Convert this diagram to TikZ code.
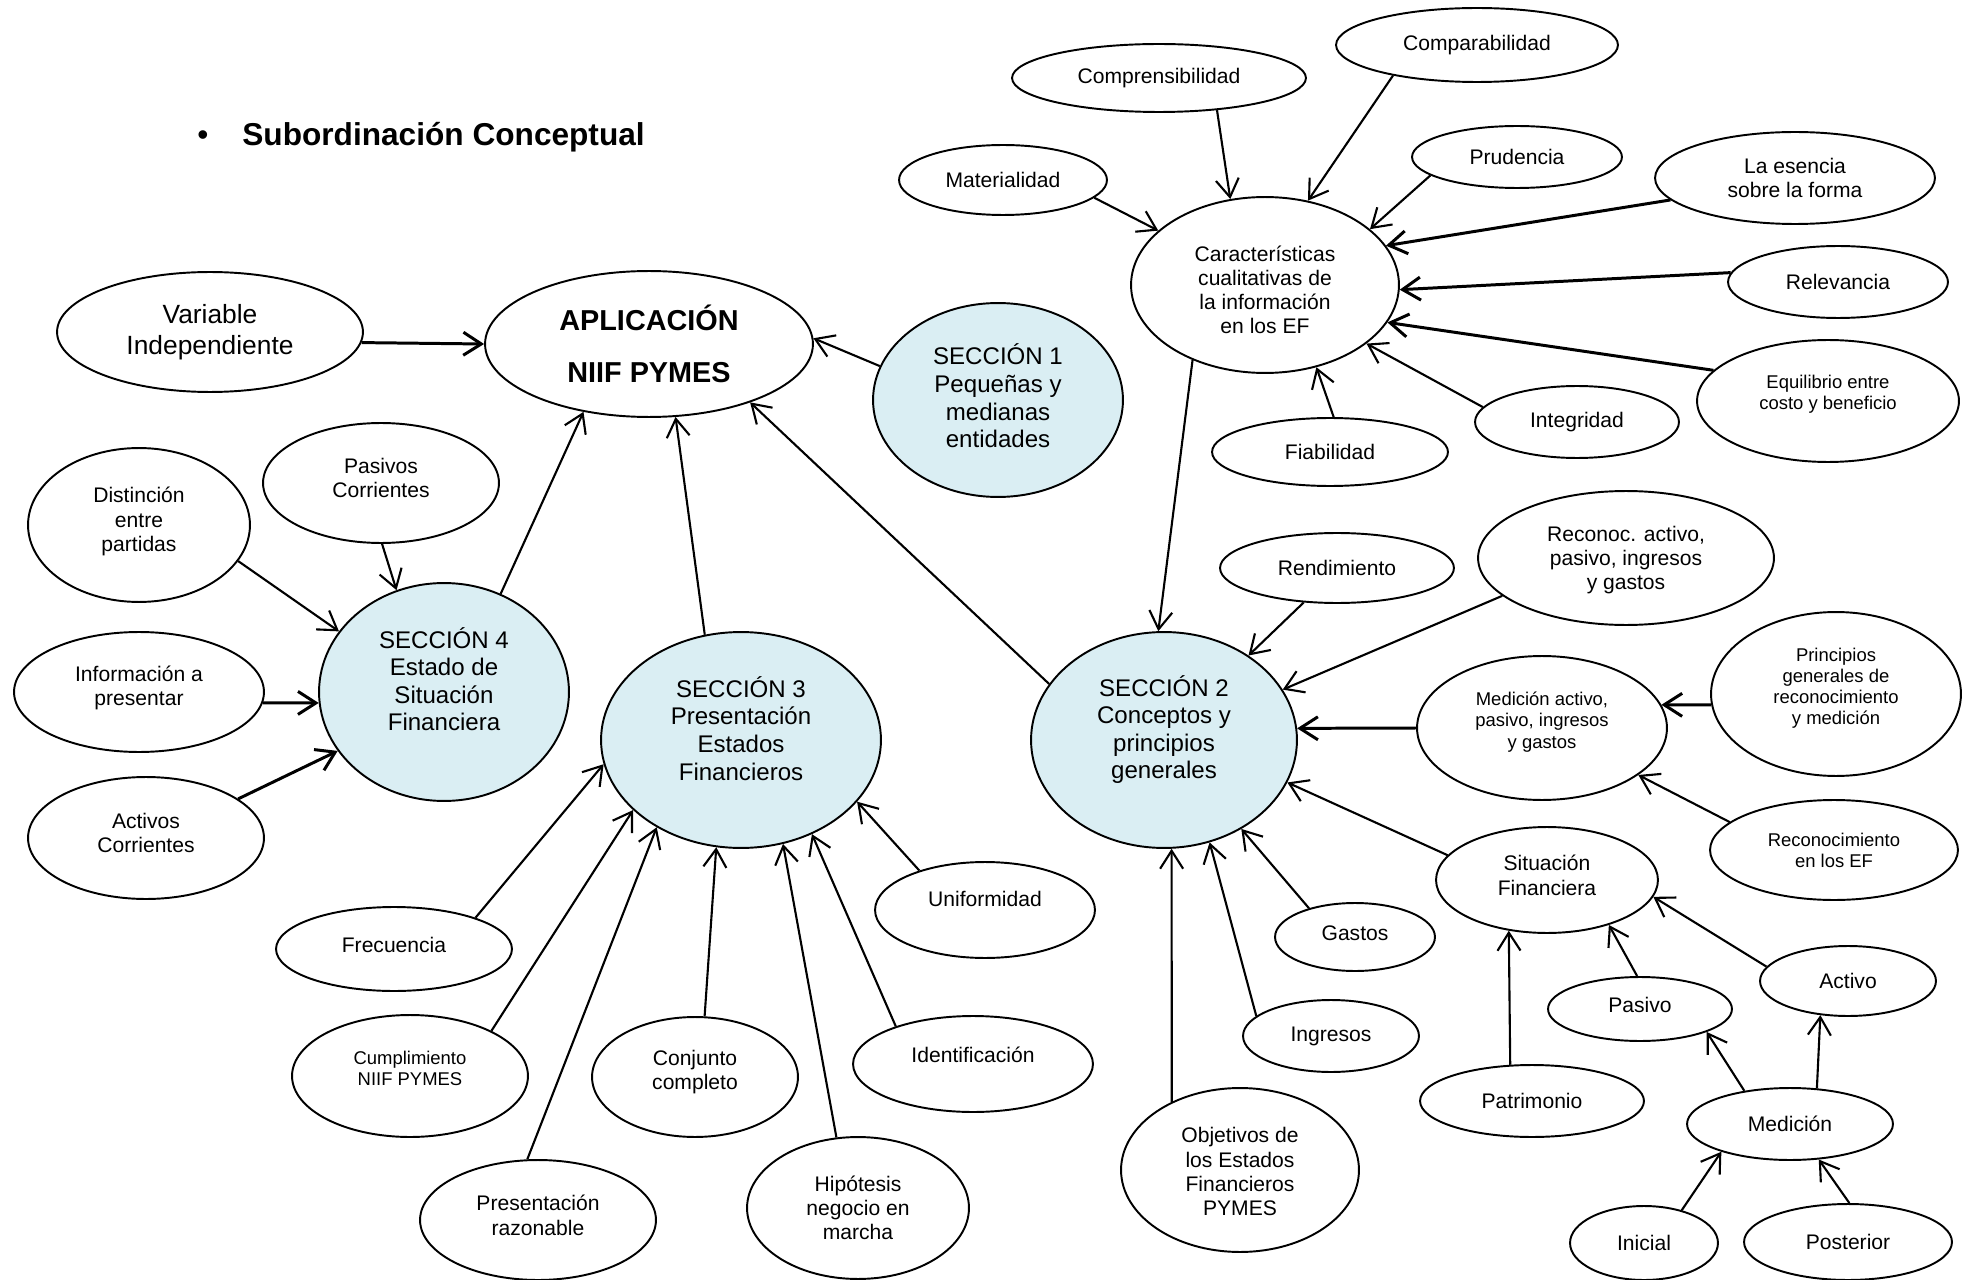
\documentclass[tikz,border=0pt]{standalone}
\usepackage{fontspec}
\setmainfont{Liberation Sans}
\usepackage{tikz}
\usetikzlibrary{shapes.geometric,arrows.meta}
\definecolor{secblue}{HTML}{DAEEF3}
\newcommand\liftup[2]{\raisebox{#1}[\height][\depth]{\begin{tabular}{@{}c@{}}#2\end{tabular}}}

\begin{document}
\begin{tikzpicture}[x=0.02cm,y=-0.02cm,>={Straight Barb[length=3.6mm,width=4.6mm]},
  every node/.style={font=\fontsize{12}{13.8}\selectfont},
  oval/.style={draw,ellipse,line width=1.1pt,align=center,inner sep=0pt},
  sz/.style 2 args={minimum width=#1*0.04cm,minimum height=#2*0.04cm},
  smtxt/.style={font=\fontsize{10.5}{12}\selectfont},
  sec/.style={oval,fill=secblue,font=\fontsize{13.7}{15.7}\selectfont},
  root/.style={oval,font=\fontsize{16.4}{29.5}\selectfont\bfseries},
  arr/.style={->,line width=1.2pt},
  arrb/.style={->,line width=1.7pt}]
 \useasboundingbox (0,0) rectangle (1978,1280);
 \node[font=\fontsize{18}{21}\selectfont] (bullet) at (203,138) {\textbullet};
 \node[font=\fontsize{18}{21}\selectfont\bfseries,anchor=west,inner sep=0pt] (title) at (242,137) {Subordinación Conceptual};
 \node[root,sz={164}{73}] (aplic) at (649,344) {APLICACIÓN\\NIIF PYMES};
 \node[oval,sz={153}{60},font=\fontsize{15}{17.6}\selectfont] (varind) at (210,332) {Variable\\Independiente};
 \node[sec,sz={125}{97}] (sec1) at (998,400) {\liftup{0pt}{SECCIÓN 1\\Pequeñas y\\medianas\\entidades}};
 \node[sec,sz={133}{108}] (sec2) at (1164,740) {\liftup{5pt}{SECCIÓN 2\\Conceptos y\\principios\\generales}};
 \node[sec,sz={140}{108}] (sec3) at (741,740) {\liftup{4.3pt}{SECCIÓN 3\\Presentación\\Estados\\Financieros}};
 \node[sec,sz={125}{109}] (sec4) at (444,692) {\liftup{5pt}{SECCIÓN 4\\Estado de\\Situación\\Financiera}};
 \node[oval,sz={134}{88}] (car) at (1265,285) {\liftup{-4.3pt}{Características\\cualitativas de\\la información\\en los EF}};
 \node[oval,sz={104}{35}] (mat) at (1003,180) {Materialidad};
 \node[oval,sz={147}{34}] (compr) at (1159,78) {Comprensibilidad};
 \node[oval,sz={141}{37}] (compa) at (1477,45) {Comparabilidad};
 \node[oval,sz={105}{31}] (prud) at (1517,157) {Prudencia};
 \node[oval,sz={140}{46}] (esen) at (1795,178) {La esencia\\sobre la forma};
 \node[oval,sz={110}{36}] (relev) at (1838,282) {Relevancia};
 \node[oval,smtxt,sz={131}{61}] (equil) at (1828,401) {\liftup{3.5pt}{Equilibrio entre\\costo y beneficio}};
 \node[oval,sz={102}{36}] (integ) at (1577,422) {Integridad};
 \node[oval,sz={118}{34}] (fiab) at (1330,452) {Fiabilidad};
 \node[oval,sz={117}{35}] (rend) at (1337,568) {Rendimiento};
 \node[oval,sz={148}{67}] (recon) at (1626,558) {\liftup{-1.4pt}{Reconoc. activo,\\pasivo, ingresos\\y gastos}};
 \node[oval,smtxt,sz={125}{72}] (medact) at (1542,728) {\liftup{3pt}{Medición activo,\\pasivo, ingresos\\y gastos}};
 \node[oval,smtxt,sz={125}{82}] (princ) at (1836,694) {\liftup{3pt}{Principios\\generales de\\reconocimiento\\y medición}};
 \node[oval,smtxt,sz={124}{50}] (recef) at (1834,850) {Reconocimiento\\en los EF};
 \node[oval,sz={111}{53}] (sitfin) at (1547,880) {\liftup{1pt}{Situación\\Financiera}};
 \node[oval,sz={80}{34}] (gastos) at (1355,937) {\liftup{1pt}{Gastos}};
 \node[oval,sz={88}{36}] (ingr) at (1331,1036) {Ingresos};
 \node[oval,sz={119}{82}] (objet) at (1240,1170) {\liftup{-2.5pt}{Objetivos de\\los Estados\\Financieros\\PYMES}};
 \node[oval,sz={112}{36}] (patr) at (1532,1101) {Patrimonio};
 \node[oval,sz={92}{32}] (pasivo) at (1640,1009) {\liftup{1pt}{Pasivo}};
 \node[oval,sz={88}{35}] (activo) at (1848,981) {Activo};
 \node[oval,sz={103}{36}] (medic) at (1790,1124) {Medición};
 \node[oval,sz={74}{37}] (inic) at (1644,1243) {Inicial};
 \node[oval,sz={104}{38}] (poster) at (1848,1242) {Posterior};
 \node[oval,sz={111}{77}] (dist) at (139,525) {\liftup{1.5pt}{Distinción\\entre\\partidas}};
 \node[oval,sz={118}{60}] (pasc) at (381,483) {\liftup{1.5pt}{Pasivos\\Corrientes}};
 \node[oval,sz={125}{60}] (info) at (139,692) {\liftup{2pt}{Información a\\presentar}};
 \node[oval,sz={118}{61}] (actc) at (146,838) {\liftup{1.5pt}{Activos\\Corrientes}};
 \node[oval,sz={118}{42}] (frec) at (394,949) {\liftup{1pt}{Frecuencia}};
 \node[oval,smtxt,sz={118}{61}] (cumpl) at (410,1076) {\liftup{3pt}{Cumplimiento\\NIIF PYMES}};
 \node[oval,sz={118}{60}] (presr) at (538,1220) {\liftup{1pt}{Presentación\\razonable}};
 \node[oval,sz={103}{60}] (conj) at (695,1077) {\liftup{2.5pt}{Conjunto\\completo}};
 \node[oval,sz={111}{71}] (hipo) at (858,1208) {Hipótesis\\negocio en\\marcha};
 \node[oval,sz={120}{48}] (ident) at (973,1064) {\liftup{3.5pt}{Identificación}};
 \node[oval,sz={110}{48}] (unif) at (985,910) {\liftup{5pt}{Uniformidad}};
 \draw[arrb] (varind.-4) -- (aplic.180);
 \draw[arr] (sec1.164) -- (aplic.2);
 \draw[arr] (sec4.60) -- (aplic.226);
 \draw[arr] (sec3.109) -- (aplic.-70);
 \draw[arr] (sec2.154) -- (aplic.-30);
 \draw[arr] (car.-134) -- (sec2.93);
 \draw[arr] (mat.-11) -- (car.153);
 \draw[arr] (compr.-29) -- (car.112);
 \draw[arr] (compa.-160) -- (car.63);
 \draw[arr] (prud.-168) -- (car.28);
 \draw[arrb] (esen.190) -- (car.18);
 \draw[arrb] (relev.175) -- (car.-2);
 \draw[arrb] (equil.165) -- (car.-17);
 \draw[arr] (integ.171) -- (car.-30);
 \draw[arr] (fiab.84) -- (car.-58);
 \draw[arr] (rend.226) -- (sec2.45);
 \draw[arr] (recon.197) -- (sec2.23);
 \draw[arrb] (medact.180) -- (sec2.5);
 \draw[arr] (sitfin.166) -- (sec2.-19);
 \draw[arr] (gastos.148) -- (sec2.-49);
 \draw[arr] (ingr.165) -- (sec2.-66);
 \draw[arr] (objet.135) -- (sec2.-86);
 \draw[arrb] (princ.185) -- (medact.11);
 \draw[arr] (recef.165) -- (medact.-26);
 \draw[arr] (patr.121) -- (sitfin.233);
 \draw[arr] (pasivo.95) -- (sitfin.-36);
 \draw[arr] (activo.170) -- (sitfin.-9);
 \draw[arr] (medic.144) -- (pasivo.-19);
 \draw[arr] (medic.53) -- (activo.231);
 \draw[arr] (inic.41) -- (medic.202);
 \draw[arr] (poster.88) -- (medic.-51);
 \draw[arr] (dist.-20) -- (sec4.150);
 \draw[arr] (pasc.-89) -- (sec4.115);
 \draw[arrb] (info.-5) -- (sec4.185);
 \draw[arrb] (actc.23) -- (sec4.209);
 \draw[arr] (frec.21) -- (sec3.190);
 \draw[arr] (cumpl.29) -- (sec3.213);
 \draw[arr] (presr.100) -- (sec3.226);
 \draw[arr] (conj.81) -- (sec3.257);
 \draw[arr] (hipo.107) -- (sec3.-68);
 \draw[arr] (ident.154) -- (sec3.-53);
 \draw[arr] (unif.149) -- (sec3.-28);
\end{tikzpicture}
\end{document}
